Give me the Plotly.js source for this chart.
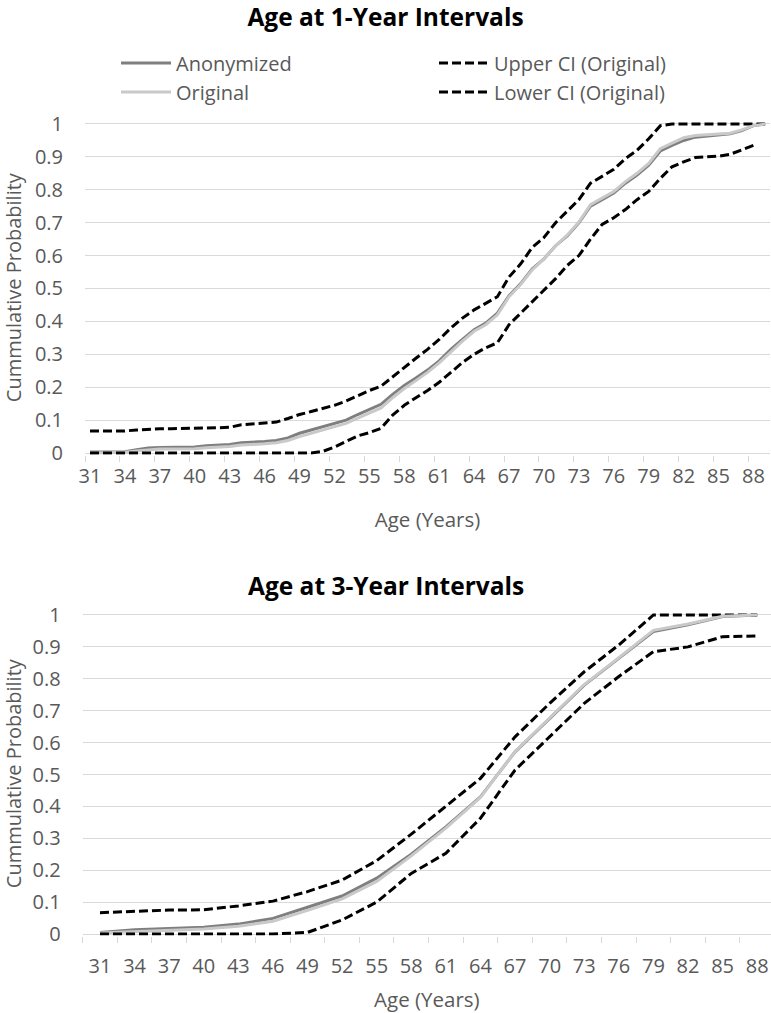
<!DOCTYPE html>
<html>
<head>
<meta charset="utf-8">
<script src="https://cdn.plot.ly/plotly-3.0.1.min.js"></script>
<style>html,body{margin:0;padding:0;background:#fff;}</style>
</head>
<body>
<div id="chart" style="width:771px;height:1013px;"></div>
<script>
// ---- Data: 1-year intervals ----
const ages1 = [31,32,33,34,35,36,37,38,39,40,41,42,43,44,45,46,47,48,49,50,51,52,53,54,55,56,57,58,59,60,61,62,63,64,65,66,67,68,69,70,71,72,73,74,75,76,77,78,79,80,81,82,83,84,85,86,87,88,89];
const anon1 = [0.003,0.003,0.003,0.004,0.010,0.015,0.017,0.017,0.017,0.018,0.022,0.023,0.026,0.031,0.032,0.035,0.038,0.046,0.060,0.070,0.078,0.088,0.100,0.117,0.132,0.148,0.178,0.205,0.228,0.252,0.280,0.315,0.345,0.375,0.395,0.425,0.478,0.515,0.560,0.590,0.630,0.660,0.700,0.750,0.770,0.790,0.820,0.845,0.875,0.918,0.935,0.950,0.960,0.963,0.967,0.970,0.980,0.995,1.000];
const orig1 = [0.000,0.000,0.000,0.002,0.006,0.010,0.012,0.012,0.012,0.013,0.016,0.017,0.020,0.024,0.025,0.028,0.031,0.038,0.050,0.060,0.068,0.078,0.090,0.106,0.122,0.137,0.168,0.196,0.220,0.245,0.274,0.308,0.340,0.370,0.390,0.420,0.475,0.512,0.557,0.590,0.630,0.662,0.702,0.755,0.775,0.795,0.825,0.850,0.880,0.925,0.942,0.958,0.965,0.967,0.970,0.972,0.982,0.995,1.000];
const upper1 = [0.067,0.067,0.067,0.067,0.070,0.073,0.074,0.074,0.074,0.074,0.076,0.077,0.078,0.086,0.088,0.090,0.094,0.105,0.117,0.126,0.135,0.145,0.158,0.175,0.190,0.203,0.232,0.260,0.288,0.315,0.345,0.380,0.410,0.435,0.455,0.475,0.535,0.575,0.625,0.655,0.700,0.735,0.770,0.820,0.840,0.862,0.895,0.920,0.955,0.995,1.000,1.000,1.000,1.000,1.000,1.000,1.000,1.000,1.000];
const lowerAges1 = [31,32,33,34,35,36,37,38,39,40,41,42,43,44,45,46,47,48,49,50,51,52,53,54,55,56,57,58,59,60,61,62,63,64,65,66,67,68,69,70,71,72,73,74,75,76,77,78,79,80,81,82,83,84,85,86,87,88];
const lower1 = [0,0,0,0,0,0,0,0,0,0,0,0,0,0,0,0,0,0,0,0,0.005,0.018,0.035,0.052,0.062,0.075,0.115,0.145,0.168,0.190,0.215,0.245,0.275,0.300,0.320,0.335,0.390,0.425,0.460,0.495,0.530,0.570,0.600,0.650,0.695,0.715,0.740,0.770,0.795,0.835,0.870,0.885,0.898,0.900,0.902,0.908,0.922,0.935];

// ---- Data: 3-year intervals ----
const ages3 = [31,34,37,40,43,46,49,52,55,58,61,64,67,70,73,76,79,82,85,88];
const anon3 = [0.005,0.013,0.017,0.021,0.031,0.049,0.084,0.119,0.175,0.250,0.336,0.430,0.571,0.676,0.780,0.864,0.948,0.969,0.995,1.000];
const orig3 = [0.003,0.008,0.012,0.016,0.024,0.040,0.074,0.110,0.165,0.245,0.332,0.428,0.572,0.678,0.782,0.866,0.952,0.972,0.996,1.000];
const upper3 = [0.067,0.072,0.075,0.076,0.088,0.103,0.133,0.169,0.230,0.313,0.400,0.488,0.618,0.723,0.822,0.906,1.000,1.000,1.000,1.000];
const lower3 = [0,0,0,0,0,0,0.005,0.044,0.100,0.190,0.253,0.363,0.514,0.618,0.723,0.807,0.885,0.900,0.932,0.934];

// ---- Tick labels ----
const xTickVals = [31,34,37,40,43,46,49,52,55,58,61,64,67,70,73,76,79,82,85,88];
const xTickText = ['31','34','37','40','43','46','49','52','55','58','61','64','67','70','73','76','79','82','85','88'];
const yTickVals = [0,0.1,0.2,0.3,0.4,0.5,0.6,0.7,0.8,0.9,1];
const yTickText = ['0','0.1','0.2','0.3','0.4','0.5','0.6','0.7','0.8','0.9','1'];

const FONT = 'Open Sans, sans-serif';
const GRAY = '#595959';
const GRID = '#d9d9d9';
const C_ANON = '#7f7f7f';
const C_ORIG = '#c9c9c9';
const LW = 3;
const DASH = '9px,4px';

const traces = [
  {x: ages1, y: anon1, type:'scatter', mode:'lines', name:'Anonymized', line:{color:C_ANON, width:LW}, xaxis:'x', yaxis:'y', legend:'legend'},
  {x: ages1, y: upper1, type:'scatter', mode:'lines', name:'Upper CI (Original)', line:{color:'#000', width:LW, dash:DASH}, xaxis:'x', yaxis:'y', legend:'legend'},
  {x: ages1, y: orig1, type:'scatter', mode:'lines', name:'Original', line:{color:C_ORIG, width:LW}, xaxis:'x', yaxis:'y', legend:'legend2'},
  {x: lowerAges1, y: lower1, type:'scatter', mode:'lines', name:'Lower CI (Original)', line:{color:'#000', width:LW, dash:DASH}, xaxis:'x', yaxis:'y', legend:'legend2'},

  {x: ages3, y: anon3, type:'scatter', mode:'lines', name:'Anonymized', line:{color:C_ANON, width:LW}, xaxis:'x2', yaxis:'y2', showlegend:false},
  {x: ages3, y: upper3, type:'scatter', mode:'lines', name:'Upper CI (Original)', line:{color:'#000', width:LW, dash:DASH}, xaxis:'x2', yaxis:'y2', showlegend:false},
  {x: ages3, y: orig3, type:'scatter', mode:'lines', name:'Original', line:{color:C_ORIG, width:LW}, xaxis:'x2', yaxis:'y2', showlegend:false},
  {x: ages3, y: lower3, type:'scatter', mode:'lines', name:'Lower CI (Original)', line:{color:'#000', width:LW, dash:DASH}, xaxis:'x2', yaxis:'y2', showlegend:false}
];

function yAxis(domain, anchor) {
  return {
    domain: domain, anchor: anchor, range: [-0.005, 1.01],
    tickvals: yTickVals, ticktext: yTickText, ticks: '',
    showgrid: true, gridcolor: GRID, gridwidth: 1,
    zeroline: true, zerolinecolor: GRID, zerolinewidth: 1,
    showline: false, ticklabelstandoff: 21, fixedrange: true,
    tickfont: {family: FONT, size: 20, color: GRAY},
    title: {text: 'Cummulative Probability', font: {family: FONT, size: 20, color: GRAY}, standoff: 8}
  };
}
function xAxis(domain, anchor, range, tick0, standoff, titleStandoff) {
  return {
    domain: domain, anchor: anchor, range: range,
    tickvals: xTickVals, ticktext: xTickText, ticks: '',
    showgrid: false, zeroline: false, showline: false, fixedrange: true,
    ticklabelstandoff: standoff,
    minor: {tick0: tick0, dtick: 3, ticks: 'outside', ticklen: 6, tickcolor: GRID, tickwidth: 1, showgrid: false},
    tickfont: {family: FONT, size: 20, color: GRAY},
    title: {text: 'Age (Years)', font: {family: FONT, size: 20.5, color: GRAY}, standoff: titleStandoff}
  };
}

const layout = {
  width: 771, height: 1013,
  margin: {l: 0, r: 0, t: 0, b: 0},
  paper_bgcolor: '#fff', plot_bgcolor: '#fff',
  font: {family: FONT, color: GRAY},
  title: {text: '<b>Age at 1-Year Intervals</b>', font: {family: FONT, size: 24.5, color: '#000'},
          x: 0.5, xref: 'paper', xanchor: 'center', y: 1 - 17/1013, yref: 'paper', yanchor: 'middle'},
  xaxis: xAxis([85/771, 770/771], 'y', [30.57, 89.42], 30.57, 7, 24),
  yaxis: yAxis([0.55118, 0.88085], 'x'),
  xaxis2: xAxis([82.7/771, 1], 'y2', [29.5, 89.2], 29.5, 16, 15),
  yaxis2: yAxis([0.07641, 0.39605], 'x2'),
  legend: {orientation: 'h', x: 116/771, xanchor: 'left', y: 1 - 63/1013, yanchor: 'middle',
           itemwidth: 50, entrywidth: 253, entrywidthmode: 'pixels', bgcolor: 'rgba(0,0,0,0)',
           font: {family: FONT, size: 20, color: GRAY}},
  legend2: {orientation: 'h', x: 116/771, xanchor: 'left', y: 1 - 92/1013, yanchor: 'middle',
           itemwidth: 50, entrywidth: 253, entrywidthmode: 'pixels', bgcolor: 'rgba(0,0,0,0)',
           font: {family: FONT, size: 20, color: GRAY}},
  annotations: [
    {text: '<b>Age at 3-Year Intervals</b>', xref: 'paper', yref: 'paper', x: 0.5, y: 1 - 585/1013,
     xanchor: 'center', yanchor: 'middle', showarrow: false, font: {family: FONT, size: 24.5, color: '#000'}}
  ],
  showlegend: true
};

Plotly.newPlot('chart', traces, layout, {displayModeBar: false, staticPlot: true});
</script>
</body>
</html>
